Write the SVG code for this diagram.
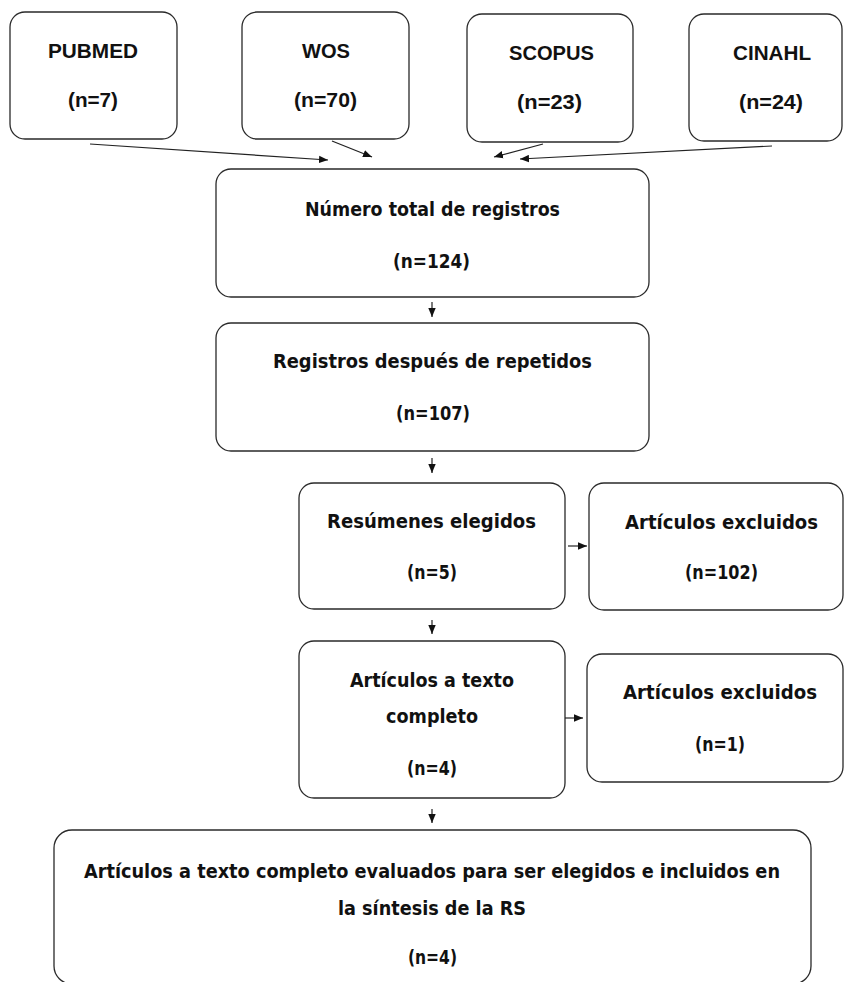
<svg xmlns="http://www.w3.org/2000/svg" width="844" height="982" viewBox="0 0 844 982">
<style>
.box{fill:#fff;stroke:#2a2a2a;stroke-width:1.3}
.t1{font-family:"Liberation Sans",Arial,sans-serif;font-weight:bold;font-size:21px;fill:#111;text-anchor:middle}
.t2{font-family:"DejaVu Sans",Verdana,sans-serif;font-weight:bold;font-size:19px;fill:#111;text-anchor:middle}
.c{stroke:#222;stroke-width:1.2;fill:none;marker-end:url(#ah)}
</style>
<defs>
<marker id="ah" markerUnits="userSpaceOnUse" markerWidth="10" markerHeight="8" refX="9" refY="4" orient="auto">
<path d="M0,0.3 L9,4 L0,7.7 z" fill="#111"/>
</marker>
</defs>
<rect width="844" height="982" fill="#fff"/>
<g id="pubmed">
<rect class="box" x="10" y="12" width="167" height="127" rx="15"/>
<text class="t1" x="93" y="58" textLength="90" lengthAdjust="spacingAndGlyphs">PUBMED</text>
<text class="t1" x="93" y="107" textLength="50" lengthAdjust="spacingAndGlyphs">(n=7)</text>
</g>
<g id="wos">
<rect class="box" x="242" y="12" width="167" height="127" rx="15"/>
<text class="t1" x="326" y="58" textLength="48" lengthAdjust="spacingAndGlyphs">WOS</text>
<text class="t1" x="325.5" y="107" textLength="63" lengthAdjust="spacingAndGlyphs">(n=70)</text>
</g>
<g id="scopus">
<rect class="box" x="467" y="14" width="166" height="128" rx="15"/>
<text class="t1" x="551.5" y="60" textLength="85" lengthAdjust="spacingAndGlyphs">SCOPUS</text>
<text class="t1" x="549.5" y="109" textLength="65" lengthAdjust="spacingAndGlyphs">(n=23)</text>
</g>
<g id="cinahl">
<rect class="box" x="689" y="14" width="153" height="127" rx="15"/>
<text class="t1" x="772" y="60" textLength="78" lengthAdjust="spacingAndGlyphs">CINAHL</text>
<text class="t1" x="771" y="109" textLength="64" lengthAdjust="spacingAndGlyphs">(n=24)</text>
</g>
<g id="total">
<rect class="box" x="216" y="169" width="433" height="128" rx="15"/>
<text class="t2" x="432.5" y="216" textLength="255" lengthAdjust="spacingAndGlyphs">Número total de registros</text>
<text class="t2" x="431.5" y="268" textLength="77" lengthAdjust="spacingAndGlyphs">(n=124)</text>
</g>
<g id="registros">
<rect class="box" x="216" y="323" width="433" height="128" rx="15"/>
<text class="t2" x="432.5" y="368" textLength="319" lengthAdjust="spacingAndGlyphs">Registros después de repetidos</text>
<text class="t2" x="433" y="420" textLength="74" lengthAdjust="spacingAndGlyphs">(n=107)</text>
</g>
<g id="resumenes">
<rect class="box" x="299" y="483" width="266" height="126" rx="15"/>
<text class="t2" x="431.5" y="528" textLength="209" lengthAdjust="spacingAndGlyphs">Resúmenes elegidos</text>
<text class="t2" x="432" y="579" textLength="50" lengthAdjust="spacingAndGlyphs">(n=5)</text>
</g>
<g id="excluidos1">
<rect class="box" x="589" y="483" width="254" height="127" rx="15"/>
<text class="t2" x="721.5" y="529" textLength="193" lengthAdjust="spacingAndGlyphs">Artículos excluidos</text>
<text class="t2" x="721.5" y="579" textLength="73" lengthAdjust="spacingAndGlyphs">(n=102)</text>
</g>
<g id="textocompleto">
<rect class="box" x="299" y="641" width="266" height="157" rx="15"/>
<text class="t2" x="432" y="687" textLength="164" lengthAdjust="spacingAndGlyphs">Artículos a texto</text>
<text class="t2" x="432" y="723" textLength="92" lengthAdjust="spacingAndGlyphs">completo</text>
<text class="t2" x="432" y="775" textLength="50" lengthAdjust="spacingAndGlyphs">(n=4)</text>
</g>
<g id="excluidos2">
<rect class="box" x="587" y="654" width="256" height="128" rx="15"/>
<text class="t2" x="720" y="699" textLength="194" lengthAdjust="spacingAndGlyphs">Artículos excluidos</text>
<text class="t2" x="720" y="751" textLength="50" lengthAdjust="spacingAndGlyphs">(n=1)</text>
</g>
<g id="final">
<rect class="box" x="54" y="830" width="757" height="154" rx="18"/>
<text class="t2" x="432" y="878" textLength="696" lengthAdjust="spacingAndGlyphs">Artículos a texto completo evaluados para ser elegidos e incluidos en</text>
<text class="t2" x="432" y="915" textLength="188" lengthAdjust="spacingAndGlyphs">la síntesis de la RS</text>
<text class="t2" x="432.5" y="964" textLength="49" lengthAdjust="spacingAndGlyphs">(n=4)</text>
</g>
<g id="connectors">
<line class="c" x1="90" y1="144" x2="328" y2="160"/>
<line class="c" x1="332" y1="141" x2="372" y2="157"/>
<line class="c" x1="543" y1="144" x2="494" y2="157"/>
<line class="c" x1="772" y1="146" x2="520" y2="159"/>
<line class="c" x1="432" y1="302" x2="432" y2="317"/>
<line class="c" x1="432" y1="458" x2="432" y2="473"/>
<line class="c" x1="432" y1="620" x2="432" y2="634"/>
<line class="c" x1="432" y1="809" x2="432" y2="823"/>
<line class="c" x1="568" y1="546" x2="587" y2="546"/>
<line class="c" x1="565" y1="718" x2="583" y2="718"/>
</g>
</svg>
